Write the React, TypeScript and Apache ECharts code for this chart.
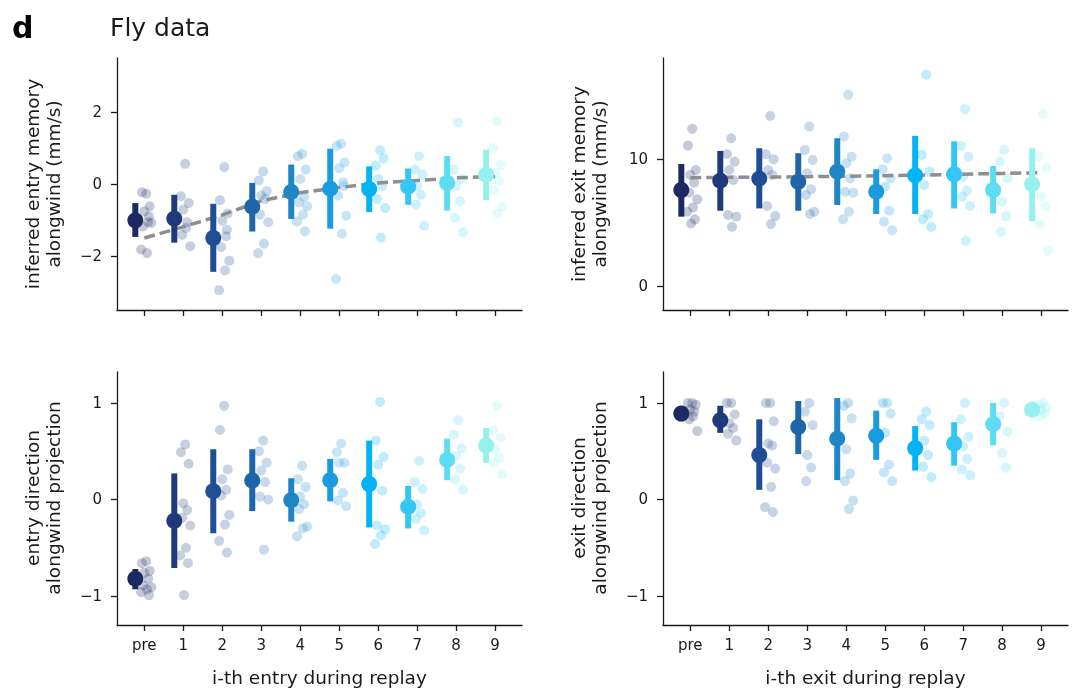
import React, { useEffect, useRef } from 'react';
import * as echarts from 'echarts';

// x categories (pre, 1..9) and one colour per category
const CATEGORIES = ['pre', '1', '2', '3', '4', '5', '6', '7', '8', '9'];
const COLORS = ['#1b2a63', '#1e3a7b', '#1f4e94', '#1e66aa', '#1f86c6', '#1a9be0', '#02b3f5', '#34c6f4', '#5ddcf2', '#95f0ee'];

// horizontal spread of the raw points around each category
const JITTER = [0.05, -0.06, 0.14, 0.0, 0.1, -0.03, 0.18, 0.07, -0.08, 0.12, 0.02, 0.16, -0.04];
const MEAN_SHIFT = -0.23;

// inferred entry memory (mm/s)
const ENTRY_MEM_MEAN = [-1.01, -0.96, -1.5, -0.63, -0.22, -0.13, -0.14, -0.07, 0.03, 0.26];
const ENTRY_MEM_LO = [-1.47, -1.63, -2.44, -1.32, -0.97, -1.24, -0.78, -0.58, -0.74, -0.45];
const ENTRY_MEM_HI = [-0.53, -0.3, -0.55, 0.03, 0.54, 0.98, 0.49, 0.43, 0.78, 0.95];
const ENTRY_MEM_FIT = [-1.5, -1.19, -0.86, -0.47, -0.24, -0.1, 0.03, 0.1, 0.17, 0.21];
const ENTRY_MEM_PTS = [
  [-0.27, -0.23, -0.62, -0.76, -1.06, -1.18, -1.08, -1.92, -1.82, -0.9],
  [0.56, -0.34, -0.53, -0.71, -1.06, -1.41, -1.73, -1.22],
  [0.47, -0.45, -0.82, -1.02, -1.45, -1.75, -2.13, -2.4, -2.95, -1.27],
  [0.35, 0.1, -0.2, -0.32, -0.42, -0.85, -1.06, -1.66, -1.92],
  [0.84, 0.77, 0.4, 0.14, -0.36, -0.51, -0.62, -0.85, -1.04, -1.31],
  [1.12, 1.06, 0.6, 0.44, 0.05, -0.32, -0.88, -1.38, -2.64, -0.06],
  [0.94, 0.51, 0.71, 0.14, -0.05, -0.42, -0.67, -1.49],
  [0.77, 0.4, 0.26, -0.06, -0.3, -0.57, -1.16],
  [1.71, 0.4, 0.14, -0.06, -0.48, -0.94, -1.34],
  [1.74, 1.0, 0.54, 0.31, 0.1, -0.16, -0.62, -0.82],
];

// inferred exit memory (mm/s)
const EXIT_MEM_MEAN = [7.55, 8.29, 8.45, 8.2, 9.0, 7.42, 8.71, 8.79, 7.55, 8.0];
const EXIT_MEM_LO = [5.45, 5.92, 6.1, 5.92, 6.37, 5.66, 5.66, 6.1, 5.71, 5.1];
const EXIT_MEM_HI = [9.6, 10.63, 10.84, 10.45, 11.63, 9.18, 11.82, 11.39, 9.45, 10.84];
const EXIT_MEM_FIT = [8.52, 8.55, 8.57, 8.6, 8.64, 8.68, 8.73, 8.8, 8.86, 8.92];
const EXIT_MEM_PTS = [
  [12.37, 11.05, 9.13, 8.74, 8.13, 7.34, 6.82, 6.18, 5.84, 5.24, 4.92],
  [11.63, 10.39, 9.79, 9.13, 8.34, 5.58, 5.45, 4.66],
  [13.39, 10.37, 9.97, 9.13, 8.74, 6.29, 5.5, 4.87],
  [12.55, 10.71, 9.92, 8.87, 7.61, 7.16, 5.84, 5.66],
  [15.05, 11.76, 10.18, 9.66, 8.47, 7.42, 7.34, 5.84, 5.24],
  [10.05, 9.18, 8.47, 7.82, 5.92, 5.05, 4.39],
  [16.63, 10.32, 9.0, 7.95, 5.66, 5.24, 4.66],
  [13.92, 11.03, 10.18, 8.6, 7.5, 7.03, 6.29, 3.55],
  [10.71, 9.79, 8.47, 6.63, 5.5, 4.26],
  [13.55, 10.18, 9.34, 7.03, 6.24, 4.92, 2.76],
];

// entry direction, alongwind projection
const ENTRY_DIR_MEAN = [-0.82, -0.22, 0.086, 0.196, -0.007, 0.2, 0.16, -0.076, 0.41, 0.56];
const ENTRY_DIR_LO = [-0.93, -0.71, -0.35, -0.12, -0.23, -0.02, -0.29, -0.3, 0.2, 0.38];
const ENTRY_DIR_HI = [-0.72, 0.27, 0.52, 0.52, 0.22, 0.42, 0.61, 0.14, 0.63, 0.74];
const ENTRY_DIR_PTS = [
  [-0.64, -0.66, -0.74, -0.76, -0.82, -0.89, -0.91, -0.93, -0.96, -0.99],
  [0.57, 0.49, 0.37, -0.04, -0.11, -0.19, -0.27, -0.5, -0.58, -0.66, -0.99],
  [0.97, 0.72, 0.31, 0.21, 0.1, 0.04, -0.16, -0.26, -0.43, -0.55],
  [0.61, 0.5, 0.38, 0.3, 0.18, 0.03, 0.0, -0.52],
  [0.35, 0.21, 0.13, 0.03, -0.05, -0.1, -0.28, -0.3, -0.38],
  [0.58, 0.49, 0.38, 0.38, 0.07, -0.01, -0.07],
  [1.01, 0.61, 0.44, 0.36, 0.09, -0.27, -0.31, -0.37, -0.46],
  [0.4, 0.18, 0.11, -0.05, -0.14, -0.2, -0.32],
  [0.82, 0.67, 0.53, 0.45, 0.32, 0.21, 0.1],
  [0.97, 0.72, 0.64, 0.52, 0.43, 0.38, 0.26],
];

// exit direction, alongwind projection
const EXIT_DIR_MEAN = [0.89, 0.82, 0.46, 0.75, 0.63, 0.66, 0.53, 0.58, 0.78, 0.93];
const EXIT_DIR_LO = [0.81, 0.69, 0.1, 0.47, 0.2, 0.41, 0.3, 0.35, 0.56, 0.91];
const EXIT_DIR_HI = [0.955, 0.97, 0.83, 1.02, 1.05, 0.92, 0.76, 0.8, 1.0, 0.95];
const EXIT_DIR_PTS = [
  [1.0, 1.0, 0.98, 0.93, 0.91, 0.83, 0.71, 0.86],
  [1.0, 1.0, 0.88, 0.79, 0.74, 0.68, 0.61],
  [1.0, 1.0, 0.81, 0.58, 0.56, 0.38, 0.32, 0.13, -0.08, -0.13],
  [1.0, 0.91, 0.77, 0.46, 0.33, 0.19],
  [1.0, 0.97, 0.84, 0.52, 0.27, 0.19, -0.01, -0.1],
  [1.0, 1.0, 0.89, 0.69, 0.36, 0.28, 0.19],
  [0.91, 0.83, 0.77, 0.61, 0.46, 0.34, 0.23],
  [1.0, 0.83, 0.65, 0.55, 0.42, 0.31, 0.25],
  [1.0, 0.86, 0.7, 0.48, 0.33],
  [1.0, 0.98, 0.95, 0.93, 0.89, 0.86],
];

const Y_TICKS_ENTRY_MEM = [-2, 0, 2];
const Y_TICKS_EXIT_MEM = [0, 10];
const Y_TICKS_DIR = [-1, 0, 1];
const X_TICKS = [0, 1, 2, 3, 4, 5, 6, 7, 8, 9];

const FONT = 'DejaVu Sans';
const INK = '#1a1a1a';

const panels = [
  { mean: ENTRY_MEM_MEAN, lo: ENTRY_MEM_LO, hi: ENTRY_MEM_HI, pts: ENTRY_MEM_PTS, fit: ENTRY_MEM_FIT, yMin: -3.5, yMax: 3.5, yTicks: Y_TICKS_ENTRY_MEM, grid: { left: 117, top: 58, width: 405, height: 252 } },
  { mean: EXIT_MEM_MEAN, lo: EXIT_MEM_LO, hi: EXIT_MEM_HI, pts: EXIT_MEM_PTS, fit: EXIT_MEM_FIT, yMin: -1.9, yMax: 17.95, yTicks: Y_TICKS_EXIT_MEM, grid: { left: 663, top: 58, width: 405, height: 252 } },
  { mean: ENTRY_DIR_MEAN, lo: ENTRY_DIR_LO, hi: ENTRY_DIR_HI, pts: ENTRY_DIR_PTS, fit: null, yMin: -1.3, yMax: 1.32, yTicks: Y_TICKS_DIR, grid: { left: 117, top: 372, width: 405, height: 253 } },
  { mean: EXIT_DIR_MEAN, lo: EXIT_DIR_LO, hi: EXIT_DIR_HI, pts: EXIT_DIR_PTS, fit: null, yMin: -1.3, yMax: 1.32, yTicks: Y_TICKS_DIR, grid: { left: 663, top: 372, width: 405, height: 253 } },
];

const yTitles = [
  { text: 'inferred entry memory\nalongwind (mm/s)', x: 43, y: 184 },
  { text: 'inferred exit memory\nalongwind (mm/s)', x: 589, y: 184 },
  { text: 'entry direction\nalongwind projection', x: 43, y: 498 },
  { text: 'exit direction\nalongwind projection', x: 589, y: 498 },
];

const App = () => {
  const chartRef = useRef(null);

  useEffect(() => {
    const chart = echarts.init(chartRef.current, null, { renderer: 'svg' });

    const axisLine = { show: true, onZero: false, lineStyle: { color: INK, width: 1.3 } };

    const series: any[] = [];
    panels.forEach((p, pi) => {
      const raw: any[] = [];
      p.pts.forEach((vals, g) => {
        vals.forEach((v, k) => {
          raw.push({ value: [g + JITTER[k % JITTER.length], v], itemStyle: { color: COLORS[g], opacity: 0.25 } });
        });
      });
      series.push({
        type: 'scatter', xAxisIndex: pi, yAxisIndex: pi, data: raw,
        symbolSize: 10, z: 1, silent: true,
      });
      if (p.fit) {
        series.push({
          type: 'line', xAxisIndex: pi, yAxisIndex: pi,
          data: p.fit.map((v, i) => [i, v]),
          symbol: 'none', z: 2, silent: true,
          lineStyle: { color: '#8f8f8f', width: 3.5, type: [11, 5] },
        });
      }
      series.push({
        type: 'custom', xAxisIndex: pi, yAxisIndex: pi, z: 3, silent: true,
        data: p.mean.map((m, i) => [i + MEAN_SHIFT, p.lo[i], p.hi[i]]),
        encode: { x: 0, y: [1, 2] },
        renderItem: (params: any, api: any) => {
          const x = api.value(0);
          const a = api.coord([x, api.value(1)]);
          const b = api.coord([x, api.value(2)]);
          return {
            type: 'line',
            shape: { x1: a[0], y1: a[1], x2: b[0], y2: b[1] },
            style: { stroke: COLORS[params.dataIndex], lineWidth: 6, lineCap: 'butt' },
          };
        },
      });
      series.push({
        type: 'scatter', xAxisIndex: pi, yAxisIndex: pi, z: 4, silent: true,
        symbolSize: 16,
        data: p.mean.map((m, i) => ({ value: [i + MEAN_SHIFT, m], itemStyle: { color: COLORS[i], opacity: 1 } })),
      });
    });

    const option = {
      animation: false,
      textStyle: { fontFamily: FONT, color: INK },
      grid: panels.map((p) => ({ ...p.grid, containLabel: false })),
      xAxis: panels.map((p, pi) => ({
        type: 'value', gridIndex: pi, min: -0.7, max: 9.69,
        axisLine,
        axisTick: { show: true, length: 6, lineStyle: { color: INK, width: 1.3 }, customValues: X_TICKS },
        axisLabel: {
          show: pi >= 2, customValues: X_TICKS, fontSize: 15, color: INK, margin: 12, fontFamily: FONT,
          formatter: (v: number) => CATEGORIES[Math.round(v)],
        },
        splitLine: { show: false },
        name: pi >= 2 ? (pi === 2 ? 'i-th entry during replay' : 'i-th exit during replay') : '',
        nameLocation: 'middle', nameGap: 43,
        nameTextStyle: { fontSize: 18.5, color: INK, fontFamily: FONT },
      })),
      yAxis: panels.map((p, pi) => ({
        type: 'value', gridIndex: pi, min: p.yMin, max: p.yMax,
        axisLine,
        axisTick: { show: true, length: 6, lineStyle: { color: INK, width: 1.3 }, customValues: p.yTicks },
        axisLabel: {
          customValues: p.yTicks, fontSize: 15, color: INK, margin: 15, fontFamily: FONT,
          formatter: (v: number) => (v < 0 ? '\u2212' + Math.abs(v) : String(v)),
        },
        splitLine: { show: false },
      })),
      graphic: [
        { type: 'text', x: 12, y: 27, style: { text: 'd', font: `bold 30px "${FONT}"`, fill: '#000', textVerticalAlign: 'middle' } },
        { type: 'text', x: 110, y: 27.5, style: { text: 'Fly data', font: `25px "${FONT}"`, fill: INK, textVerticalAlign: 'middle' } },
        ...yTitles.map((t) => ({
          type: 'text', x: t.x, y: t.y, rotation: Math.PI / 2,
          style: { text: t.text, font: `18.5px "${FONT}"`, fill: INK, textAlign: 'center', textVerticalAlign: 'middle', lineHeight: 21.5 },
        })),
      ],
      series,
    };

    chart.setOption(option);

    return () => {
      chart.dispose();
    };
  }, []);

  return <div ref={chartRef} style={{ position: 'fixed', left: 0, top: 0, width: 1080, height: 700 }} />;
};

export default App;
